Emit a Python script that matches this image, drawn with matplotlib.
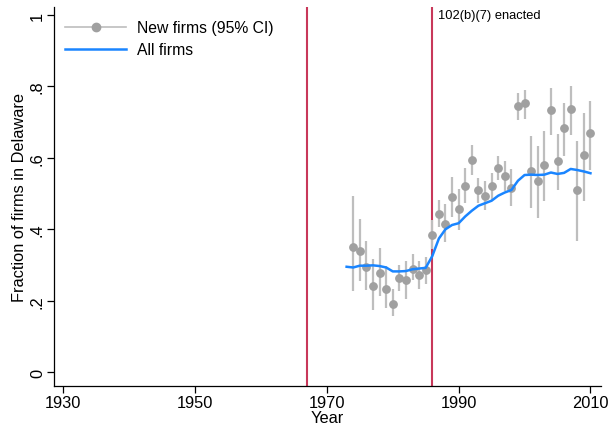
import numpy as np
import matplotlib.pyplot as plt

plt.rcParams['font.family'] = ['Liberation Sans', 'DejaVu Sans']

# new firms incorporating each year: share in Delaware with 95% CI
years_new = list(range(1974, 2011))
frac_new = [0.351, 0.338, 0.295, 0.241, 0.278, 0.234, 0.191, 0.263, 0.257, 0.290,
            0.272, 0.287, 0.385, 0.443, 0.415, 0.491, 0.456, 0.522, 0.595, 0.510,
            0.494, 0.521, 0.572, 0.550, 0.517, 0.746, 0.753, 0.564, 0.535, 0.581,
            0.733, 0.590, 0.684, 0.738, 0.509, 0.608, 0.669]
ci_low = [0.226, 0.254, 0.230, 0.175, 0.214, 0.180, 0.156, 0.228, 0.206, 0.259,
          0.234, 0.246, 0.345, 0.405, 0.363, 0.435, 0.399, 0.473, 0.552, 0.473,
          0.455, 0.483, 0.539, 0.508, 0.466, 0.707, 0.709, 0.461, 0.431, 0.480,
          0.664, 0.510, 0.606, 0.664, 0.368, 0.478, 0.567]
ci_high = [0.492, 0.429, 0.367, 0.318, 0.348, 0.298, 0.232, 0.300, 0.311, 0.330,
           0.311, 0.322, 0.425, 0.481, 0.470, 0.547, 0.513, 0.571, 0.636, 0.545,
           0.534, 0.559, 0.606, 0.591, 0.569, 0.781, 0.791, 0.660, 0.634, 0.676,
           0.795, 0.667, 0.753, 0.800, 0.648, 0.727, 0.760]

# all firms
years_all = list(range(1973, 2011))
frac_all = [0.295, 0.293, 0.298, 0.298, 0.299, 0.297, 0.293, 0.282, 0.282, 0.283,
            0.288, 0.290, 0.292, 0.325, 0.374, 0.400, 0.412, 0.417, 0.436, 0.452,
            0.466, 0.473, 0.480, 0.494, 0.503, 0.510, 0.536, 0.552, 0.553, 0.552,
            0.553, 0.559, 0.555, 0.558, 0.569, 0.566, 0.562, 0.557]

event_years = [1967, 1986]

fig = plt.figure(figsize=(6.08, 4.27), dpi=100)
ax = fig.add_axes([0.0888, 0.0937, 0.8997, 0.887])

red = '#C8385A'
for yr in event_years:
    ax.axvline(yr, color=red, lw=1.5, zorder=1)
ax.text(1986.9, 1.0, '102(b)(7) enacted', fontsize=9.3, va='center', ha='left')

yerr = [np.array(frac_new) - np.array(ci_low), np.array(ci_high) - np.array(frac_new)]
ax.errorbar(years_new, frac_new, yerr=yerr, fmt='o', color='#A0A0A0', ms=5.3,
            ecolor='#BEBEBE', elinewidth=1.6, capsize=0, zorder=3)
ax.plot(years_all, frac_all, color='#1A85FF', lw=1.8, zorder=4)

# legend handles
h1, = ax.plot([], [], color='#BEBEBE', lw=1.2, marker='o', mfc='#A0A0A0',
              mec='#A0A0A0', ms=6)
h2, = ax.plot([], [], color='#1A85FF', lw=1.8)
ax.legend([h1, h2], ['New firms (95% CI)', 'All firms'], loc='upper left',
          frameon=False, fontsize=11.3, handlelength=3.9, handletextpad=0.7,
          borderaxespad=0.3, labelspacing=0.45, bbox_to_anchor=(0.0, 0.995))

ax.set_xlim(1928.6, 2011.6)
ax.set_ylim(-0.039, 1.022)
ax.set_xticks([1930, 1950, 1970, 1990, 2010])
ax.set_yticks([0, 0.2, 0.4, 0.6, 0.8, 1.0])
ax.set_yticklabels(['0', '.2', '.4', '.6', '.8', '1'], rotation=90, va='center')
ax.tick_params(labelsize=11.8, length=5, width=0.9, direction='out', pad=1.5)
ax.set_xlabel('Year', fontsize=11.8, labelpad=0)
ax.set_ylabel('Fraction of firms in Delaware', fontsize=11.8, labelpad=2)

for s in ['top', 'right']:
    ax.spines[s].set_visible(False)
for s in ['left', 'bottom']:
    ax.spines[s].set_linewidth(0.9)

fig.savefig('out.png', dpi=100)
